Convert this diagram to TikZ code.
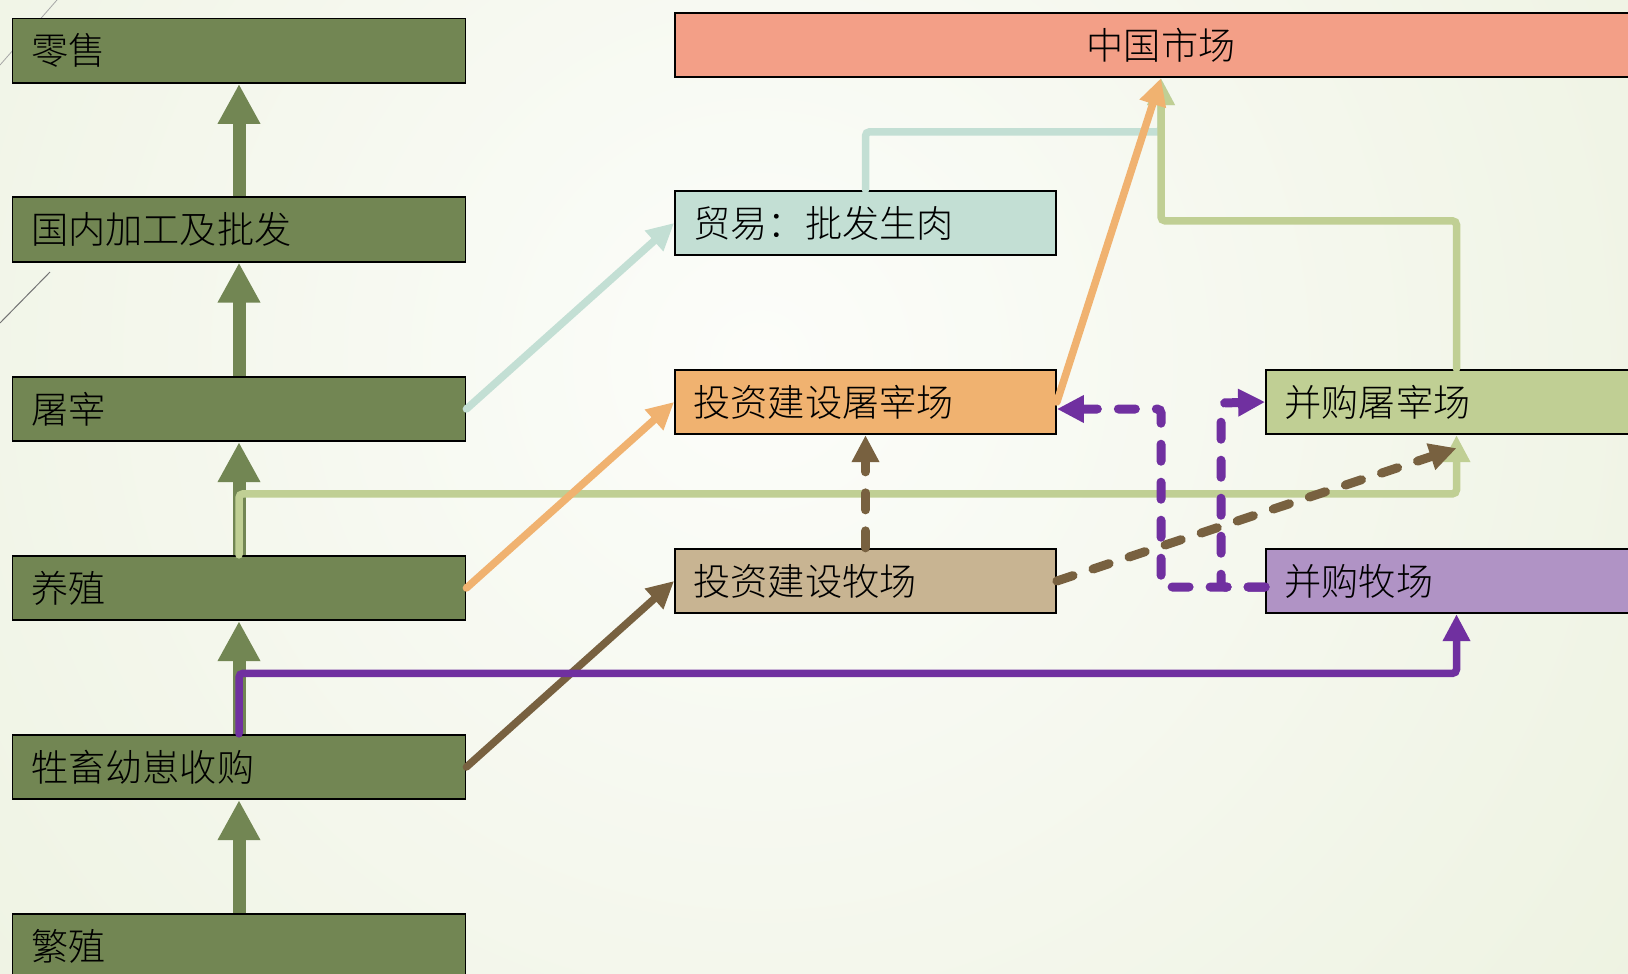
\documentclass[tikz,border=0pt]{standalone}
\usepackage{fontspec}
\setmainfont{Noto Sans CJK SC Light}
\usetikzlibrary{arrows.meta}

\definecolor{chaine}{HTML}{728653}
\definecolor{marche}{HTML}{F39F87}
\definecolor{commerce}{HTML}{C3DFD4}
\definecolor{abattoir}{HTML}{F0B270}
\definecolor{ferme}{HTML}{C8B492}
\definecolor{rachatab}{HTML}{C0CF94}
\definecolor{rachatfe}{HTML}{B093C5}
\definecolor{traitviolet}{HTML}{7030A0}
\definecolor{traitbrun}{HTML}{786140}
\definecolor{fond}{HTML}{FCFDFA}
\definecolor{fondvert}{HTML}{E4EBD1}

\begin{document}
\begin{tikzpicture}[x=1pt, y=-1pt,
  boite/.style={draw=black, line width=1.8pt, minimum height=64.5pt,
    font=\fontsize{37.2}{40}\selectfont, text=black},
  gauche/.style={boite, fill=chaine, text width=416pt, inner xsep=18.5pt, align=left},
  droite/.style={boite, text width=344pt, inner xsep=18.5pt, align=left},
  montee/.style={line width=13pt, chaine, -{Triangle[length=40pt,width=40pt]}},
  fleche/.style={line width=7.5pt, line cap=round, rounded corners=4pt,
    -{Triangle[length=27pt,width=26pt]}},
  tirets/.style={fleche, line width=9pt, dash pattern=on 17pt off 21pt}]

% Fond
\useasboundingbox (0,0) rectangle (1628,974);
\clip (0,0) rectangle (1628,974);
\shade[inner color=fond, outer color=fondvert] (760,360) circle (1800);
\draw[black!35, line width=0.8pt] (0,65) -- (57,0);
\draw[black!55, line width=1pt] (0,323) -- (50,272);

% Chaine de gauche
\node[gauche] (ls) at (239,50.8) {零售};
\node[gauche] (gn) at (239,229.5) {国内加工及批发};
\node[gauche] (tz) at (239,409) {屠宰};
\node[gauche] (yz) at (239,588) {养殖};
\node[gauche] (sg) at (239,767) {牲畜幼崽收购};
\node[gauche] (fz) at (239,946) {繁殖};

% Marche et projets
\node[boite, fill=marche, minimum width=972pt] (zg) at (1161,45) {中国市场};
\node[droite, fill=commerce] (my) at (865.5,223) {贸易：批发生肉};
\node[droite, fill=abattoir] (tzc) at (865.5,402) {投资建设屠宰场};
\node[droite, fill=ferme] (tmc) at (865.5,581) {投资建设牧场};
\node[droite, fill=rachatab] (bgt) at (1456.5,402) {并购屠宰场};
\node[droite, fill=rachatfe] (bgm) at (1456.5,581) {并购牧场};

% Fleches de la chaine
\draw[montee] (gn.north) -- (ls.south);
\draw[montee] (tz.north) -- (gn.south);
\draw[montee] (yz.north) -- (tz.south);
\draw[montee] (sg.north) -- (yz.south);
\draw[montee] (fz.north) -- (sg.south);

% Liens vers le marche
\draw[fleche, commerce] (tz.east) -- (my.west);
\draw[fleche, commerce] (my.north) -- ++(0,-58) -| (zg.south);
\draw[fleche, rachatab] (bgt.north) -- ++(0,-148) -| (zg.south);
\draw[fleche, rachatab] (yz.north) -- ++(0,-61) -| (bgt.south);
\draw[fleche, abattoir] (yz.east) -- (tzc.west);
\draw[fleche, abattoir] (tzc.east) -- (zg.south);
\draw[fleche, traitbrun] (sg.east) -- (tmc.west);
\draw[fleche, traitviolet] (sg.north) -- ++(0,-60.5) -| (bgm.south);

% Liens en tirets
\draw[tirets, traitviolet] ([yshift=-6pt]bgm.west) -| (1161,409) -- ([yshift=-7pt]tzc.east);
\draw[tirets, traitviolet] ([yshift=-6pt]bgm.west) -| (1221,403) -- (bgt.west);
\draw[tirets, traitbrun] (tmc.north) -- (tzc.south);
\draw[tirets, traitbrun] (tmc.east) -- ([yshift=-13pt]bgt.south);

\end{tikzpicture}
\end{document}
